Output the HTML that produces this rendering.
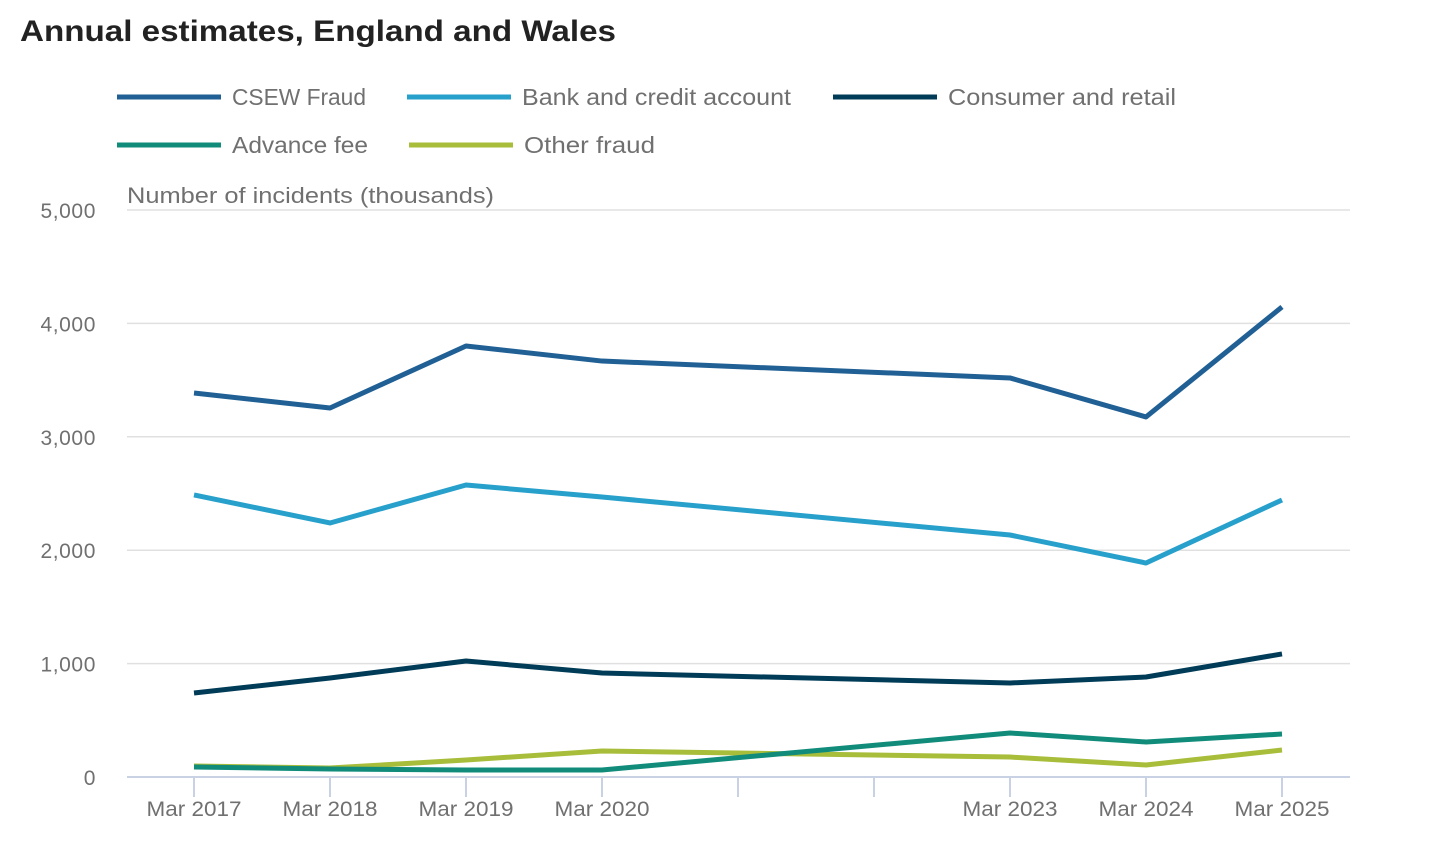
<!DOCTYPE html>
<html><head><meta charset="utf-8"><style>
body{margin:0;background:#fff;font-family:"Liberation Sans",sans-serif;}
</style></head><body>
<svg width="1434" height="866" xmlns="http://www.w3.org/2000/svg" id="chart" style="display:block">
<text x="20" y="41" font-size="30" font-weight="bold" fill="#222" textLength="596" lengthAdjust="spacingAndGlyphs">Annual estimates, England and Wales</text>
<g id="legend"></g>
<text x="127" y="203" font-size="22" fill="#707070" textLength="367" lengthAdjust="spacingAndGlyphs">Number of incidents (thousands)</text>
<g id="grid"></g><g id="lines"></g>
</svg>
<script>
const categories=["Mar 2017","Mar 2018","Mar 2019","Mar 2020","Mar 2021","Mar 2022","Mar 2023","Mar 2024","Mar 2025"];
const tickLabels=["Mar 2017","Mar 2018","Mar 2019","Mar 2020","","","Mar 2023","Mar 2024","Mar 2025"];
const yTicks=[0,1000,2000,3000,4000,5000];
const seriesNames=["CSEW Fraud","Bank and credit account","Consumer and retail","Advance fee","Other fraud"];
const csew=[3386,3254,3801,3668,null,null,3519,3175,4145];
const bank=[2487,2240,2575,2469,null,null,2134,1887,2443];
const consumer=[741,873,1023,917,null,null,829,882,1085];
const advance=[88,70,62,62,null,null,388,309,379];
const other=[97,79,150,229,null,null,176,106,238];
const colors=["#206095","#27a0cc","#003c57","#118c7b","#a8bd3a"];
const NS="http://www.w3.org/2000/svg";
const x=i=>194+i*136;
const y=v=>777-v*(567/5000);
function mk(t,a,p){const e=document.createElementNS(NS,t);for(const k in a)e.setAttribute(k,a[k]);p.appendChild(e);return e;}
const grid=document.getElementById('grid');
yTicks.forEach(v=>{
 if(v>0){const l=mk('line',{x1:127,x2:1350,y1:y(v),y2:y(v),stroke:'#e0e0e0','stroke-width':1.5},grid);
 }
 const t=mk('text',{x:96,y:y(v)+8,'font-size':21,fill:'#707070','text-anchor':'end','letter-spacing':0.6},grid);t.textContent=v.toLocaleString('en-GB');
 
});
const ax=mk('line',{x1:127,x2:1350,y1:777,y2:777,stroke:'#c8d2e4','stroke-width':2},grid);

categories.forEach((c,i)=>{
 const tk=mk('line',{x1:x(i),x2:x(i),y1:777,y2:797,stroke:'#c8d2e4','stroke-width':2},grid);
 
 if(tickLabels[i]){const t=mk('text',{x:x(i),y:816,'font-size':21,fill:'#707070','text-anchor':'middle',textLength:95,lengthAdjust:'spacingAndGlyphs'},grid);t.textContent=tickLabels[i];
 }
});
const lines=document.getElementById('lines');
[csew,bank,consumer,advance,other].slice().reverse().forEach((s,ri)=>{
 const k=4-ri;
 const pts=[];s.forEach((v,i)=>{if(v!==null)pts.push(x(i)+','+y(v));});
 const p=mk('polyline',{points:pts.join(' '),fill:'none',stroke:colors[k],'stroke-width':5,'stroke-linejoin':'round'},lines);
 
});
const lg=document.getElementById('legend');
const pos=[[117,97],[407,97],[833,97],[117,145],[409,145]];
const lw=[134,269,228,136,131];
seriesNames.forEach((n,k)=>{
 const g=mk('g',{},lg);
 mk('line',{x1:pos[k][0],x2:pos[k][0]+104,y1:pos[k][1],y2:pos[k][1],stroke:colors[k],'stroke-width':5},g);
 const t=mk('text',{x:pos[k][0]+115,y:pos[k][1]+8,'font-size':23,fill:'#707070',textLength:lw[k],lengthAdjust:'spacingAndGlyphs'},g);t.textContent=n;
});
</script>
</body></html>
